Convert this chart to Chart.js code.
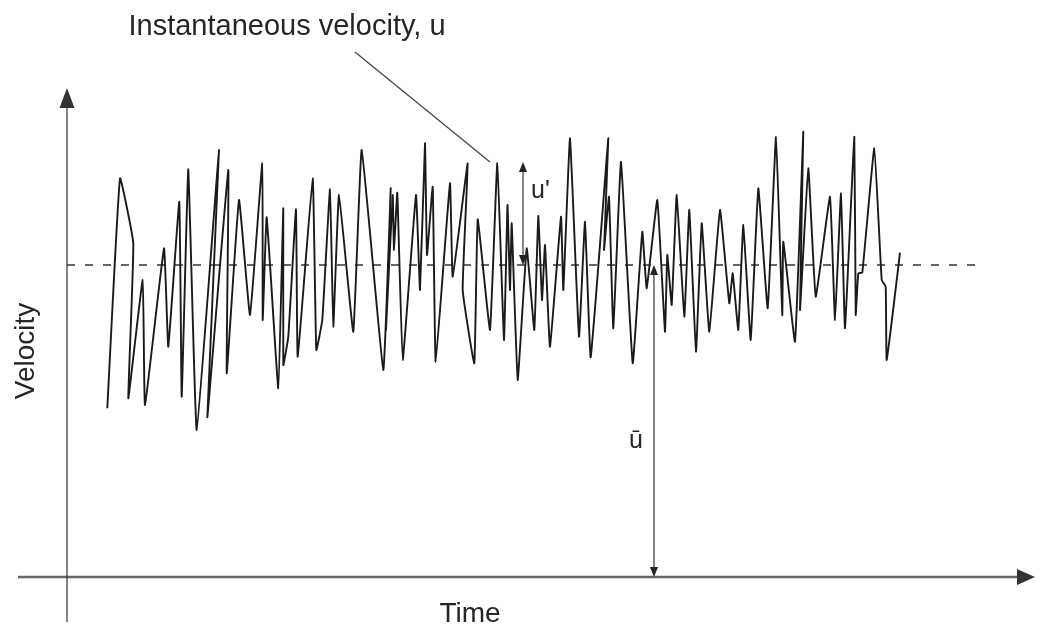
<!DOCTYPE html>
<html>
<head>
<meta charset="utf-8">
<script src="https://cdn.jsdelivr.net/npm/chart.js@4.4.1/dist/chart.umd.min.js"></script>
<style>
  html, body { margin: 0; padding: 0; background: #fff; }
  canvas { display: block; }
</style>
</head>
<body>
<canvas id="c" width="1050" height="628"></canvas>
<script>
// Instantaneous velocity record: time (arbitrary units) and velocity
const time = [
  4.03, 5.30, 6.63, 6.13, 7.57, 7.80, 9.70, 10.13, 11.23, 11.47,
  12.13, 12.97, 15.20, 14.03, 16.13, 15.97, 17.20, 18.30, 19.53, 19.57,
  19.97, 21.13, 21.63, 21.63, 22.13, 22.90, 23.07, 24.57, 24.93, 25.53,
  26.30, 26.63, 27.20, 28.63, 29.47, 31.63, 32.37, 31.90, 32.57, 32.70,
  33.03, 33.57, 34.90, 35.30, 35.80, 36.00, 36.57, 36.87, 38.30, 38.57,
  40.07, 39.57, 40.73, 41.07, 42.30, 43.03, 43.70, 44.05, 44.30, 44.47,
  45.07, 45.97, 46.73, 47.13, 47.50, 47.80, 48.30, 49.40, 49.63, 50.30,
  51.20, 51.80, 52.37, 54.13, 53.70, 54.20, 54.63, 55.40, 56.57, 57.53,
  57.97, 59.03, 59.80, 60.03, 60.47, 60.97, 61.73, 62.23, 62.90, 63.47,
  64.23, 65.30, 66.23, 66.57, 67.13, 67.63, 68.37, 69.13, 70.07, 70.90,
  71.53, 71.63, 72.80, 73.63, 73.30, 74.13, 74.87, 76.30, 76.80, 77.40,
  77.80, 78.73, 78.87, 79.13, 79.53, 80.73, 81.47, 81.87, 81.97, 83.30
];
const velocity = [
  16.87, 39.87, 33.37, 17.87, 29.70, 17.20, 32.87, 23.03, 37.53, 18.03,
  40.77, 14.70, 42.70, 15.97, 40.70, 20.37, 37.70, 26.20, 41.37, 25.70,
  35.97, 18.87, 36.87, 21.20, 24.03, 36.77, 22.03, 39.87, 22.70, 25.70,
  38.77, 25.03, 38.20, 24.53, 42.70, 20.70, 38.87, 24.70, 38.20, 32.70,
  38.43, 21.70, 38.20, 28.70, 43.37, 32.20, 39.03, 21.53, 39.37, 30.03,
  41.37, 28.70, 21.37, 35.77, 24.70, 41.37, 23.70, 37.20, 28.70, 35.37,
  19.70, 32.87, 24.70, 36.10, 27.70, 33.20, 23.03, 36.03, 28.70, 43.87,
  24.03, 35.53, 21.97, 43.87, 32.70, 38.03, 24.87, 41.53, 21.37, 34.53,
  28.87, 37.70, 24.53, 32.20, 27.20, 38.20, 26.03, 36.70, 22.53, 35.37,
  24.53, 36.70, 27.37, 30.37, 24.70, 35.20, 23.70, 38.87, 26.87, 44.00,
  26.20, 33.53, 23.53, 44.53, 26.70, 40.87, 28.03, 38.03, 25.70, 38.37,
  24.87, 44.03, 26.20, 30.37, 30.43, 42.87, 29.70, 29.03, 21.70, 32.43
];

// Mean velocity and the time span of the dashed mean line
const meanVelocity = 31.2;
const meanSpan = [0, 91.8];

// Axis extents (data units) and annotation positions
const timeRange = [0, 96.3];
const velocityRange = [0, 48.9];
const xAxisSpan = [-4.9, 96.8];
const yAxisSpan = [-4.5, 48.9];
const fluctuationAt = { t: 45.6, from: 31.2, to: 41.5 };
const meanArrowAt = { t: 58.7, from: 0, to: 31.2 };
const leader = [[28.8, 52.5], [42.3, 41.5]];

const signal = time.map((t, i) => ({ x: t, y: velocity[i] }));
const meanLine = meanSpan.map(t => ({ x: t, y: meanVelocity }));

const FONT = '"Liberation Sans", Arial, Helvetica, sans-serif';

function arrowHead(ctx, x, y, dx, dy, len, hw) {
  // (x,y) is the tip; (dx,dy) unit direction the arrow points
  const bx = x - dx * len, by = y - dy * len;
  const px = -dy, py = dx;
  ctx.beginPath();
  ctx.moveTo(x, y);
  ctx.lineTo(bx + px * hw, by + py * hw);
  ctx.lineTo(bx - px * hw, by - py * hw);
  ctx.closePath();
  ctx.fill();
}

const annotations = {
  id: 'annotations',
  beforeDatasetsDraw(chart) {
    const { ctx } = chart;
    const X = v => chart.scales.x.getPixelForValue(v);
    const Y = v => chart.scales.y.getPixelForValue(v);
    ctx.save();
    // time axis
    ctx.strokeStyle = '#666';
    ctx.fillStyle = '#333';
    ctx.lineWidth = 2.5;
    ctx.beginPath();
    ctx.moveTo(X(xAxisSpan[0]), Y(0));
    ctx.lineTo(X(xAxisSpan[1]) - 14, Y(0));
    ctx.stroke();
    arrowHead(ctx, X(xAxisSpan[1]), Y(0), 1, 0, 18, 8);
    // velocity axis
    ctx.strokeStyle = '#333';
    ctx.lineWidth = 1.2;
    ctx.beginPath();
    ctx.moveTo(X(0), Y(yAxisSpan[0]));
    ctx.lineTo(X(0), Y(yAxisSpan[1]) + 14);
    ctx.stroke();
    arrowHead(ctx, X(0), Y(yAxisSpan[1]), 0, -1, 20, 7.5);
    ctx.restore();
  },
  afterDatasetsDraw(chart) {
    const { ctx } = chart;
    const X = v => chart.scales.x.getPixelForValue(v);
    const Y = v => chart.scales.y.getPixelForValue(v);
    ctx.save();
    ctx.strokeStyle = '#222';
    ctx.fillStyle = '#222';
    ctx.lineWidth = 1.1;

    // u' fluctuation arrow
    let x = X(fluctuationAt.t);
    ctx.beginPath();
    ctx.moveTo(x, Y(fluctuationAt.from) - 8);
    ctx.lineTo(x, Y(fluctuationAt.to) + 8);
    ctx.stroke();
    arrowHead(ctx, x, Y(fluctuationAt.to), 0, -1, 10, 4);
    arrowHead(ctx, x, Y(fluctuationAt.from), 0, 1, 10, 4);

    // mean velocity arrow
    x = X(meanArrowAt.t);
    ctx.beginPath();
    ctx.moveTo(x, Y(meanArrowAt.from) - 8);
    ctx.lineTo(x, Y(meanArrowAt.to) + 8);
    ctx.stroke();
    arrowHead(ctx, x, Y(meanArrowAt.from), 0, 1, 10, 4);
    arrowHead(ctx, x, Y(meanArrowAt.to), 0, -1, 10, 4);

    // leader from the label to the signal
    ctx.strokeStyle = '#444';
    ctx.lineWidth = 1.3;
    ctx.beginPath();
    ctx.moveTo(X(leader[0][0]), Y(leader[0][1]));
    ctx.lineTo(X(leader[1][0]), Y(leader[1][1]));
    ctx.stroke();

    // text
    ctx.fillStyle = '#262626';
    ctx.textBaseline = 'alphabetic';
    ctx.font = '29px ' + FONT;
    ctx.textAlign = 'center';
    ctx.fillText('Instantaneous velocity, u', 287, 35);

    ctx.font = '28px ' + FONT;
    ctx.fillText('Time', 470, 622);

    ctx.save();
    ctx.translate(34, 351);
    ctx.rotate(-Math.PI / 2);
    ctx.fillText('Velocity', 0, 0);
    ctx.restore();

    ctx.font = '25px ' + FONT;
    ctx.textAlign = 'left';
    ctx.fillText("u'", X(fluctuationAt.t) + 8, 198);
    ctx.textAlign = 'center';
    ctx.fillText('ū', 636, 448);
    ctx.restore();
  }
};

new Chart(document.getElementById('c'), {
  type: 'line',
  data: {
    datasets: [
      {
        label: 'Instantaneous velocity',
        data: signal,
        borderColor: '#1a1a1a',
        borderWidth: 1.9,
        pointRadius: 0,
        tension: 0.1,
        fill: false,
        clip: false
      },
      {
        label: 'Mean velocity',
        data: meanLine,
        borderColor: '#333',
        borderWidth: 1.4,
        borderDash: [8, 10],
        pointRadius: 0,
        fill: false,
        clip: false
      }
    ]
  },
  options: {
    responsive: false,
    animation: false,
    layout: { padding: { left: 67, right: 20, top: 88, bottom: 51 } },
    scales: {
      x: { type: 'linear', min: timeRange[0], max: timeRange[1], display: false },
      y: { type: 'linear', min: velocityRange[0], max: velocityRange[1], display: false }
    },
    plugins: {
      legend: { display: false },
      tooltip: { enabled: false },
      title: { display: false }
    }
  },
  plugins: [annotations]
});
</script>
</body>
</html>
